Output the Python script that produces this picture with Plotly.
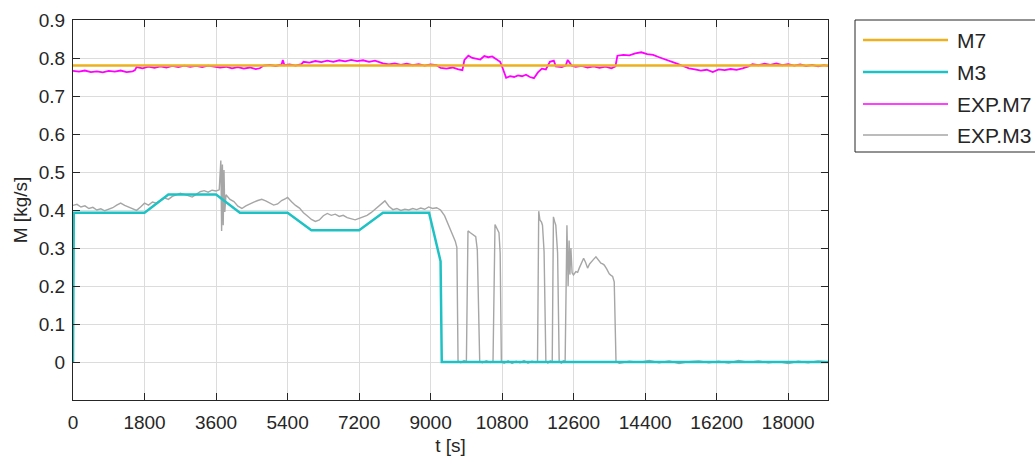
import plotly.graph_objects as go

# ---------------- data ----------------
x_ticks = [0, 1800, 3600, 5400, 7200, 9000, 10800, 12600, 14400, 16200, 18000]
y_ticks = [0, 0.1, 0.2, 0.3, 0.4, 0.5, 0.6, 0.7, 0.8, 0.9]
y_tick_labels = ["0", "0.1", "0.2", "0.3", "0.4", "0.5", "0.6", "0.7", "0.8", "0.9"]

m7_t = [0, 19000]
m7_v = [0.78, 0.78]

m3_t = [0, 20, 1800, 2400, 3600, 4200, 5400, 6000, 7200, 7800, 8960, 9250, 9280, 19000]
m3_v = [0, 0.393, 0.393, 0.441, 0.441, 0.393, 0.393, 0.347, 0.347, 0.393, 0.393, 0.265, 0, 0]

exp_m7_t = [0, 150, 300, 450, 600, 750, 900, 1050, 1200, 1350, 1500, 1560, 1600, 1750, 1900,
            2050, 2200, 2350, 2500, 2650, 2800, 2950, 3100, 3250, 3400, 3550, 3700, 3850, 4000,
            4150, 4300, 4450, 4600, 4700, 4800, 4950, 5100, 5250, 5280, 5320, 5450, 5600, 5750,
            5800, 5950, 6100, 6250, 6400, 6550, 6700, 6850, 7000, 7150, 7300, 7450, 7600, 7800,
            7950, 8100, 8250, 8400, 8550, 8700, 8850, 9000, 9150, 9250, 9400, 9550, 9700, 9800,
            9850, 9950, 10050, 10150, 10250, 10350, 10450, 10550, 10650, 10750, 10800, 10850,
            10900, 11000, 11100, 11200, 11300, 11400, 11500, 11600, 11700, 11800, 11900, 12000,
            12100, 12150, 12300, 12400, 12450, 12550, 12650, 12800, 12950, 13100, 13250, 13400,
            13550, 13650, 13700, 13850, 14000, 14150, 14300, 14450, 14600, 14750, 14900, 15050,
            15200, 15350, 15500, 15650, 15800, 15950, 16100, 16250, 16400, 16550, 16700, 16850,
            17000, 17100, 17250, 17400, 17550, 17700, 17850, 18000, 18150, 18300, 18450, 18600,
            18750, 18900, 19000]
exp_m7_v = [0.766, 0.764, 0.767, 0.763, 0.765, 0.762, 0.766, 0.764, 0.767, 0.763, 0.765, 0.768,
            0.776, 0.773, 0.777, 0.774, 0.778, 0.775, 0.779, 0.776, 0.780, 0.777, 0.779, 0.776,
            0.780, 0.778, 0.775, 0.777, 0.773, 0.776, 0.772, 0.775, 0.771, 0.773, 0.780, 0.782,
            0.779, 0.783, 0.795, 0.781, 0.783, 0.780, 0.784, 0.790, 0.788, 0.792, 0.789, 0.793,
            0.790, 0.794, 0.791, 0.795, 0.792, 0.794, 0.790, 0.793, 0.786, 0.783, 0.786, 0.782,
            0.785, 0.781, 0.784, 0.780, 0.783, 0.781, 0.774, 0.772, 0.775, 0.770, 0.768, 0.795,
            0.806, 0.800, 0.798, 0.796, 0.805, 0.802, 0.804, 0.796, 0.790, 0.777, 0.765, 0.748,
            0.752, 0.750, 0.754, 0.752, 0.756, 0.750, 0.747, 0.762, 0.772, 0.770, 0.790, 0.793,
            0.778, 0.776, 0.780, 0.795, 0.780, 0.777, 0.779, 0.775, 0.778, 0.774, 0.777, 0.773,
            0.778, 0.806, 0.808, 0.807, 0.812, 0.815, 0.810, 0.808, 0.802, 0.797, 0.790, 0.785,
            0.779, 0.773, 0.770, 0.767, 0.769, 0.763, 0.770, 0.768, 0.771, 0.769, 0.773, 0.778,
            0.784, 0.781, 0.785, 0.782, 0.786, 0.781, 0.784, 0.780, 0.783, 0.779, 0.782, 0.778,
            0.781, 0.779]

exp_m3_t = [0, 100, 200, 300, 400, 500, 600, 700, 800, 900, 1000, 1100, 1200, 1300, 1400, 1500,
            1600, 1700, 1800, 1900, 2000, 2100, 2200, 2300, 2400, 2500, 2600, 2700, 2800, 2900,
            3000, 3100, 3200, 3300, 3400, 3500, 3600, 3680, 3720, 3740, 3760, 3780, 3800, 3820,
            3850, 3950, 4050, 4150, 4250, 4350, 4450, 4550, 4650, 4750, 4850, 4950, 5050, 5150,
            5250, 5350, 5400, 5500, 5600, 5700, 5800, 5900, 6000, 6100, 6200, 6300, 6400, 6500,
            6600, 6700, 6800, 6900, 7000, 7100, 7200, 7300, 7400, 7500, 7600, 7700, 7800, 7850,
            7950, 8050, 8150, 8250, 8350, 8450, 8550, 8650, 8750, 8850, 8950, 9050, 9150, 9250,
            9350, 9450, 9550, 9620, 9660, 9690, 9760, 9840, 9900, 9940, 10000, 10050, 10100,
            10135, 10175, 10235, 10300, 10400, 10500, 10570, 10620, 10650, 10680, 10720, 10750,
            10780, 10850, 10950, 11050, 11150, 11250, 11350, 11450, 11550, 11650, 11690, 11720,
            11750, 11790, 11815, 11855, 11900, 11950, 12010, 12060, 12090, 12120, 12150, 12195,
            12235, 12290, 12340, 12385, 12430, 12460, 12485, 12505, 12530, 12560, 12595, 12655,
            12700, 12740, 12800, 12850, 12900, 12950, 13000, 13050, 13100, 13160, 13220, 13285,
            13330, 13370, 13430, 13495, 13540, 13580, 13620, 13665, 13750, 14000, 14250, 14500,
            14750, 15000, 15250, 15500, 15750, 16000, 16250, 16500, 16750, 17000, 17250, 17500,
            17750, 18000, 18250, 18500, 18750, 19000]
exp_m3_v = [0.412, 0.415, 0.408, 0.411, 0.404, 0.407, 0.400, 0.403, 0.398, 0.402, 0.406, 0.413,
            0.418, 0.412, 0.407, 0.402, 0.399, 0.408, 0.418, 0.413, 0.421, 0.418, 0.426, 0.432,
            0.428, 0.436, 0.440, 0.444, 0.441, 0.438, 0.434, 0.441, 0.448, 0.451, 0.447, 0.452,
            0.450, 0.453, 0.530, 0.345, 0.520, 0.360, 0.505, 0.395, 0.440, 0.428, 0.422, 0.410,
            0.404, 0.411, 0.417, 0.421, 0.425, 0.428, 0.424, 0.418, 0.413, 0.416, 0.425, 0.430,
            0.433, 0.422, 0.412, 0.405, 0.393, 0.384, 0.375, 0.370, 0.374, 0.385, 0.391, 0.386,
            0.389, 0.383, 0.386, 0.380, 0.377, 0.374, 0.378, 0.381, 0.386, 0.393, 0.402, 0.410,
            0.418, 0.424, 0.410, 0.401, 0.404, 0.399, 0.402, 0.400, 0.404, 0.401, 0.405, 0.402,
            0.408, 0.404, 0.406, 0.400, 0.385, 0.360, 0.340, 0.318, 0.302, 0.003, -0.002, 0.004,
            0.001, 0.345, 0.340, 0.336, 0.332, 0.330, 0.295, 0.002, -0.002, 0.003, -0.001, 0.002,
            0.362, 0.355, 0.352, 0.340, 0.287, 0.001, -0.003, 0.003, -0.004, 0.002, -0.002, 0.004,
            -0.003, 0.002, -0.001, 0.002, 0.397, 0.374, 0.368, 0.360, 0.290, 0.002, -0.003, 0.003,
            0.000, 0.382, 0.370, 0.360, 0.287, 0.001, -0.003, 0.003, 0.002, 0.360, 0.200, 0.320,
            0.230, 0.300, 0.235, 0.229, 0.238, 0.236, 0.247, 0.262, 0.273, 0.262, 0.247, 0.258,
            0.265, 0.270, 0.277, 0.270, 0.260, 0.258, 0.255, 0.245, 0.232, 0.228, 0.225, 0.211,
            0.002, -0.003, 0.002, -0.001, 0.004, -0.002, 0.003, -0.004, 0.001, 0.003, -0.002,
            0.002, -0.003, 0.004, -0.001, 0.003, -0.002, 0.001, -0.004, 0.002, -0.002, 0.003,
            0.000]

series_names = ["M7", "M3", "EXP.M7", "EXP.M3"]
series_colors = ["#EDB120", "#1FC2C4", "#FF00FF", "#A6A6A6"]
series_widths = [2.5, 2.5, 1.8, 1.4]
legend_widths = [2.5, 2.5, 1.3, 1.3]

# ---------------- figure ----------------
fig = go.Figure()
data = [(m7_t, m7_v), (m3_t, m3_v), (exp_m7_t, exp_m7_v), (exp_m3_t, exp_m3_v)]
order = [3, 2, 0, 1]  # draw experimental lines beneath model lines
for i in order:
    t, v = data[i]
    fig.add_trace(go.Scatter(x=t, y=v, mode="lines", name=series_names[i],
                             line=dict(color=series_colors[i], width=series_widths[i]),
                             showlegend=False))

W, H = 1035, 462
L, R, T, B = 73, 828, 20, 400
fig.update_layout(
    width=W, height=H,
    margin=dict(l=L, r=W - R, t=T, b=H - B, autoexpand=False),
    paper_bgcolor="white", plot_bgcolor="white",
    font=dict(family="Liberation Sans, Arial, sans-serif", size=19, color="#262626"),
    showlegend=False,
)
fig.update_xaxes(range=[0, 19000], tickvals=x_ticks, ticktext=[str(v) for v in x_ticks],
                 showgrid=True, gridcolor="#DCDCDC", gridwidth=1, zeroline=False,
                 showline=True, linecolor="#262626", linewidth=1, mirror="ticks",
                 ticks="inside", ticklen=7, tickcolor="#262626", automargin=False,
                 ticklabelstandoff=5, tickfont=dict(size=19),
                 title=dict(text="t [s]", standoff=6, font=dict(size=19)))
fig.update_yaxes(range=[-0.1, 0.9], tickvals=y_ticks, ticktext=y_tick_labels,
                 showgrid=True, gridcolor="#DCDCDC", gridwidth=1, zeroline=False,
                 showline=True, linecolor="#262626", linewidth=1, mirror="ticks",
                 ticks="inside", ticklen=7, tickcolor="#262626", automargin=False,
                 ticklabelstandoff=3, tickfont=dict(size=19),
                 title=dict(text="M [kg/s]", standoff=6, font=dict(size=19)))

# ---------------- legend (manual, MATLAB-like) ----------------
pw = R - L
ph = B - T
def px(xp):
    return (xp - L) / pw
def py(yp):
    return (B - yp) / ph

fig.add_shape(type="rect", xref="paper", yref="paper",
              x0=px(855), x1=px(1045), y0=py(152), y1=py(20),
              line=dict(color="#262626", width=1), fillcolor="white")
leg_y = [40, 72, 104, 135]
for i, name in enumerate(series_names):
    fig.add_shape(type="line", xref="paper", yref="paper",
                  x0=px(863), x1=px(948), y0=py(leg_y[i]), y1=py(leg_y[i]),
                  line=dict(color=series_colors[i], width=legend_widths[i]))
    fig.add_annotation(xref="paper", yref="paper", x=px(955), y=py(leg_y[i]),
                       text=name, showarrow=False, xanchor="left", yanchor="middle",
                       font=dict(size=21, color="#262626"))

fig.write_html("out.html", config={"displayModeBar": False},
               post_script="document.body.style.margin='0';")
